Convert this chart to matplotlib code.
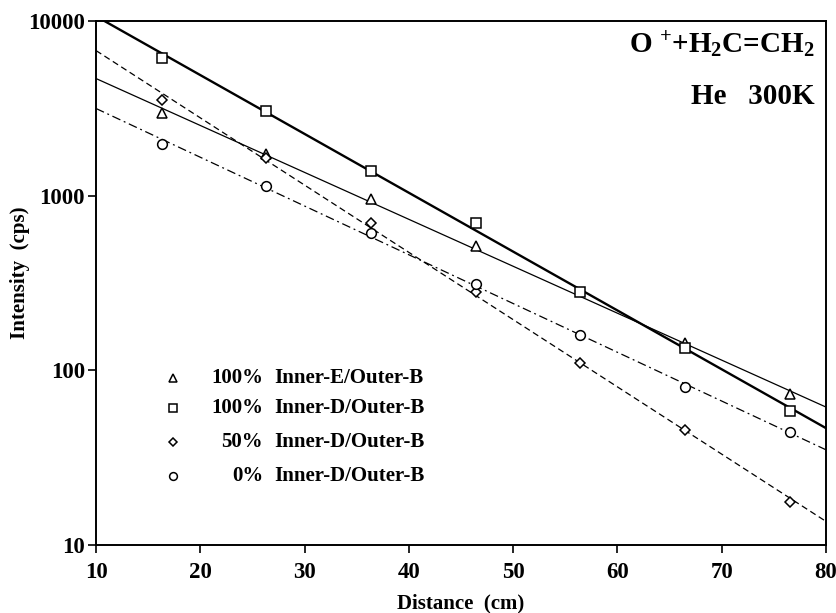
import numpy as np
import matplotlib
matplotlib.use('Agg')
import matplotlib.pyplot as plt

# distance (cm) of the measuring points
distance = [16.3, 26.3, 36.4, 46.4, 56.4, 66.5, 76.5]
distance_e = [16.3, 26.3, 36.4, 46.4, 66.5, 76.5]

# intensities (cps)
inner_e_100 = [2970, 1730, 957, 517, 143, 73]
inner_d_100 = [6140, 3065, 1390, 697, 280, 135, 58.7]
inner_d_50 = [3540, 1640, 695, 282, 110, 45.7, 17.6]
inner_d_0 = [1980, 1140, 609, 311, 159, 80, 44.2]

pct_labels = ['100%', '100%', '50%', '0%']
name_labels = ['Inner-E/Outer-B', 'Inner-D/Outer-B', 'Inner-D/Outer-B', 'Inner-D/Outer-B']

plt.rcParams['font.family'] = 'Liberation Serif'
plt.rcParams['font.weight'] = 'bold'
plt.rcParams['mathtext.fontset'] = 'custom'
plt.rcParams['mathtext.rm'] = 'Liberation Serif:bold'
plt.rcParams['mathtext.it'] = 'Liberation Serif:bold'
plt.rcParams['mathtext.bf'] = 'Liberation Serif:bold'


def exp_fit(x, y):
    """straight line fit of log10(intensity) vs distance"""
    k, b = np.polyfit(x, np.log10(y), 1)
    xx = np.array([10.0, 80.0])
    return xx, 10 ** (k * xx + b)


fig = plt.figure(figsize=(8.36, 6.13), dpi=100)
ax = fig.add_axes([96 / 836, 1 - 545 / 613, 730 / 836, 524 / 613])

series = [
    (distance_e, inner_e_100, '^', dict(color='black', lw=0.9, ls='-')),
    (distance, inner_d_100, 's', dict(color='black', lw=1.7, ls='-')),
    (distance, inner_d_50, 'D', dict(color='black', lw=0.9, ls=(0, (5, 3)))),
    (distance, inner_d_0, 'o', dict(color='black', lw=0.9, ls=(0, (7, 3, 1.5, 3)))),
]
sizes = {'^': 7.5, 's': 7.5, 'D': 5.5, 'o': 7}

for x, y, m, style in series:
    xx, yy = exp_fit(x, y)
    ax.plot(xx, yy, **style)
    ax.plot(x, y, m, ms=sizes[m], mfc='white', mec='black', mew=1.1, ls='none')

ax.set_yscale('log')
ax.set_xlim(10, 80)
ax.set_ylim(10, 10000)
ax.set_xticks(range(10, 81, 10))
ax.set_yticks([10, 100, 1000, 10000])
ax.set_yticklabels(['10', '100', '1000', '10000'])
ax.minorticks_off()
ax.tick_params(direction='out', length=6, width=1.2, labelsize=16.5, top=False, right=False)
ax.tick_params(axis='x', pad=6)
ax.tick_params(axis='y', pad=2)
for lab in ax.get_xticklabels() + ax.get_yticklabels():
    lab.set_fontweight('bold')
for sp in ax.spines.values():
    sp.set_linewidth(1.4)

ax.set_xlabel('Distance  (cm)', fontsize=15, fontweight='bold')
ax.set_ylabel('Intensity  (cps)', fontsize=15, fontweight='bold')
ax.xaxis.set_label_coords(0.5, -0.093)
ax.yaxis.set_label_coords(-0.09, 0.52)

# reaction label
ax.text(0.985, 0.955, 'O $^{+}$+H$_2$C=CH$_2$', transform=ax.transAxes,
        ha='right', va='center', fontsize=21, fontweight='bold')
ax.text(0.985, 0.855, 'He   300K', transform=ax.transAxes,
        ha='right', va='center', fontsize=21, fontweight='bold')

# hand-made legend
rows_y = [0.318, 0.262, 0.197, 0.132]
for (x, y, m, style), pct, name, ry in zip(series, pct_labels, name_labels, rows_y):
    ax.plot([0.1055], [ry], m, ms=sizes[m] * 0.8, mfc='white', mec='black', mew=1.1,
            transform=ax.transAxes, clip_on=False)
    ax.text(0.2288, ry, pct, transform=ax.transAxes, ha='right', va='center',
            fontsize=15, fontweight='bold')
    ax.text(0.2438, ry, name, transform=ax.transAxes, ha='left', va='center',
            fontsize=15, fontweight='bold')

fig.savefig('out.png', dpi=100)
